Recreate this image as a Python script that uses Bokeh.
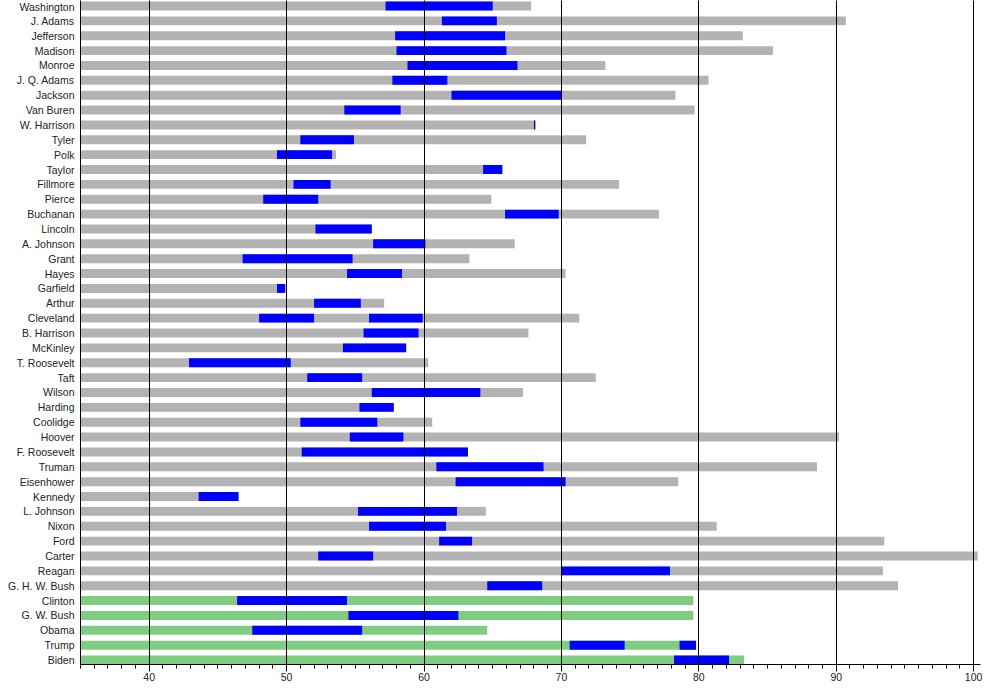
from bokeh.plotting import figure
from bokeh.models import ColumnDataSource, Range1d, FixedTicker, SingleIntervalTicker
from bokeh.embed import file_html
from bokeh.resources import INLINE

# ---- data ----
presidents = ["Washington", "J. Adams", "Jefferson", "Madison", "Monroe", "J. Q. Adams",
              "Jackson", "Van Buren", "W. Harrison", "Tyler", "Polk", "Taylor", "Fillmore",
              "Pierce", "Buchanan", "Lincoln", "A. Johnson", "Grant", "Hayes", "Garfield",
              "Arthur", "Cleveland", "B. Harrison", "McKinley", "T. Roosevelt", "Taft",
              "Wilson", "Harding", "Coolidge", "Hoover", "F. Roosevelt", "Truman",
              "Eisenhower", "Kennedy", "L. Johnson", "Nixon", "Ford", "Carter", "Reagan",
              "G. H. W. Bush", "Clinton", "G. W. Bush", "Obama", "Trump", "Biden"]
# age at death (or current age for the living)
life_age = [67.8, 90.7, 83.2, 85.4, 73.2, 80.7, 78.3, 79.7, 68.1, 71.8, 53.6, 65.7, 74.2,
            64.9, 77.1, 56.2, 66.6, 63.3, 70.3, 49.9, 57.1, 71.3, 67.6, 58.7, 60.3, 72.5,
            67.2, 57.8, 60.6, 90.2, 63.2, 88.6, 78.5, 46.5, 64.5, 81.3, 93.5, 100.3, 93.4,
            94.5, 79.6, 79.6, 64.6, 79.8, 83.3]
living = ["Clinton", "G. W. Bush", "Obama", "Trump", "Biden"]

# terms in office (age at start, age at end)
term_president = ["Washington", "J. Adams", "Jefferson", "Madison", "Monroe", "J. Q. Adams",
                  "Jackson", "Van Buren", "W. Harrison", "Tyler", "Polk", "Taylor", "Fillmore",
                  "Pierce", "Buchanan", "Lincoln", "A. Johnson", "Grant", "Hayes", "Garfield",
                  "Arthur", "Cleveland", "Cleveland", "B. Harrison", "McKinley", "T. Roosevelt",
                  "Taft", "Wilson", "Harding", "Coolidge", "Hoover", "F. Roosevelt", "Truman",
                  "Eisenhower", "Kennedy", "L. Johnson", "Nixon", "Ford", "Carter", "Reagan",
                  "G. H. W. Bush", "Clinton", "G. W. Bush", "Obama", "Trump", "Trump", "Biden"]
term_start = [57.2, 61.3, 57.9, 58.0, 58.8, 57.7, 62.0, 54.2, 68.0, 51.0, 49.3, 64.3, 50.5,
              48.3, 65.9, 52.1, 56.3, 46.8, 54.4, 49.3, 52.0, 48.0, 56.0, 55.6, 54.1, 42.9,
              51.5, 56.2, 55.3, 51.0, 54.6, 51.1, 60.9, 62.3, 43.6, 55.2, 56.0, 61.1, 52.3,
              70.0, 64.6, 46.4, 54.5, 47.5, 70.6, 78.6, 78.2]
term_end = [65.0, 65.3, 65.9, 66.0, 66.8, 61.7, 70.0, 58.3, 68.1, 54.9, 53.3, 65.7, 53.2,
            52.3, 69.8, 56.2, 60.1, 54.8, 58.4, 49.9, 55.4, 52.0, 59.9, 59.6, 58.7, 50.3,
            55.5, 64.1, 57.8, 56.6, 58.5, 63.2, 68.7, 70.3, 46.5, 62.4, 61.6, 63.5, 56.3,
            77.9, 68.6, 54.4, 62.5, 55.5, 74.6, 79.8, 82.2]

x_ticks = [40, 50, 60, 70, 80, 90, 100]

GRAY = "#b3b3b3"
GREEN = "#80cc80"
BLUE = "#0000ff"
FONT = "Liberation Sans"

idx = {n: i for i, n in enumerate(presidents)}
n = len(presidents)

life_src = ColumnDataSource(dict(
    y=list(range(n)),
    left=[0] * n,
    right=life_age,
    color=[GREEN if nm in living else GRAY for nm in presidents],
))
term_src = ColumnDataSource(dict(
    y=[idx[nm] for nm in term_president],
    left=term_start,
    right=term_end,
))

p = figure(width=984, height=684, output_backend="svg", toolbar_location=None,
           x_range=Range1d(35, 100.5), y_range=Range1d(n - 1 + 0.30, -0.37),
           min_border_left=80, min_border_right=4, min_border_top=0, min_border_bottom=20)

p.hbar(y="y", left="left", right="right", height=0.6, fill_color="color",
       line_color=None, source=life_src)
p.hbar(y="y", left="left", right="right", height=0.6, fill_color=BLUE,
       line_color=None, source=term_src)

p.outline_line_color = None
p.background_fill_color = "white"

# x axis
p.xaxis.ticker = SingleIntervalTicker(interval=10, num_minor_ticks=10)
p.xaxis.major_tick_in = 0
p.xaxis.major_tick_out = 7
p.xaxis.minor_tick_in = 0
p.xaxis.minor_tick_out = 4
p.xaxis.axis_line_color = "black"
p.xaxis.major_tick_line_color = "black"
p.xaxis.minor_tick_line_color = "black"
p.xaxis.major_label_text_font = FONT
p.xaxis.major_label_text_font_size = "10.5px"
p.xaxis.major_label_text_color = "#222222"
p.xaxis.major_label_standoff = 1

# y axis
p.yaxis.ticker = FixedTicker(ticks=list(range(n)))
p.yaxis.major_label_overrides = {i: nm for i, nm in enumerate(presidents)}
p.yaxis.major_tick_in = 0
p.yaxis.major_tick_out = 0
p.yaxis.minor_tick_in = 0
p.yaxis.minor_tick_out = 0
p.yaxis.axis_line_color = "black"
p.yaxis.major_label_text_font = FONT
p.yaxis.major_label_text_font_size = "10.5px"
p.yaxis.major_label_text_color = "#222222"
p.yaxis.major_label_standoff = 6

# grid: vertical black lines drawn over the bars
p.ygrid.grid_line_color = None
p.xgrid.ticker = FixedTicker(ticks=x_ticks)
p.xgrid.grid_line_color = "black"
p.xgrid.grid_line_width = 1
p.xgrid.grid_line_alpha = 1.0
p.xgrid.level = "overlay"

open("out.html", "w").write(file_html(p, INLINE))
